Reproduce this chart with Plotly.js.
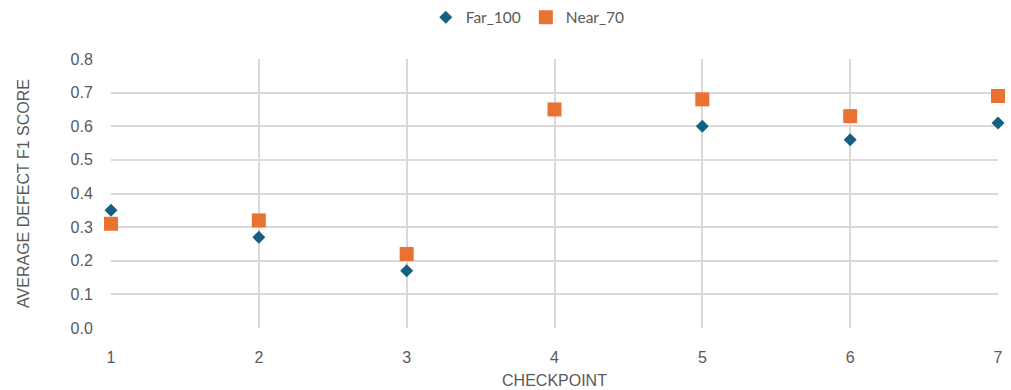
<!DOCTYPE html>
<html><head><meta charset="utf-8">
<script src="https://cdn.plot.ly/plotly-3.0.1.min.js"></script>
<style>html,body{margin:0;padding:0;background:#fff}#chart{width:1011px;height:390px}</style>
</head><body><div id="chart"></div>
<script>
const checkpoints = [1, 2, 3, 4, 5, 6, 7];
const far100 = [0.35, 0.27, 0.17, 0.65, 0.60, 0.56, 0.61];
const near70 = [0.31, 0.32, 0.22, 0.65, 0.68, 0.63, 0.69];
const yTicks = [0, 0.1, 0.2, 0.3, 0.4, 0.5, 0.6, 0.7, 0.8];

const traces = [
  {x: checkpoints, y: far100, name: 'Far_100', type: 'scatter', mode: 'markers', cliponaxis: false,
   marker: {symbol: 'diamond', size: 10, color: '#156082'}},
  {x: checkpoints, y: near70, name: 'Near_70', type: 'scatter', mode: 'markers', cliponaxis: false,
   marker: {symbol: 'square', size: 14, color: '#E97132'}}
];
const layout = {
  width: 1011, height: 390,
  margin: {l: 111, r: 13, t: 59, b: 62, autoexpand: false},
  paper_bgcolor: '#fff', plot_bgcolor: '#fff',
  font: {family: 'Liberation Sans, Arial, sans-serif', size: 16, color: '#595959'},
  showlegend: true,
  legend: {orientation: 'h', x: 0.522, xref: 'container', xanchor: 'center',
           y: 0.955, yref: 'container', yanchor: 'middle',
           font: {family: 'Lato, sans-serif', size: 15.5, color: '#595959'}, tracegroupgap: 0},
  xaxis: {range: [1, 7], tickvals: checkpoints, ticktext: checkpoints.map(String),
          showgrid: true, gridcolor: '#d9d9d9', gridwidth: 1.5, zeroline: false,
          showline: false, ticks: 'outside', ticklen: 15, tickcolor: 'rgba(0,0,0,0)',
          title: {text: 'CHECKPOINT', font: {size: 16, color: '#595959'}, standoff: 9}},
  yaxis: {range: [0, 0.8], tickvals: yTicks, ticktext: yTicks.map(v => v.toFixed(1)),
          showgrid: true, gridcolor: '#d9d9d9', gridwidth: 1.5, zeroline: false,
          showline: false, ticks: 'outside', ticklen: 14, tickcolor: 'rgba(0,0,0,0)',
          title: {text: 'AVERAGE DEFECT F1 SCORE', font: {size: 16, color: '#595959'}, standoff: 36}}
};
Plotly.newPlot('chart', traces, layout, {displayModeBar: false, responsive: false});
</script></body></html>
